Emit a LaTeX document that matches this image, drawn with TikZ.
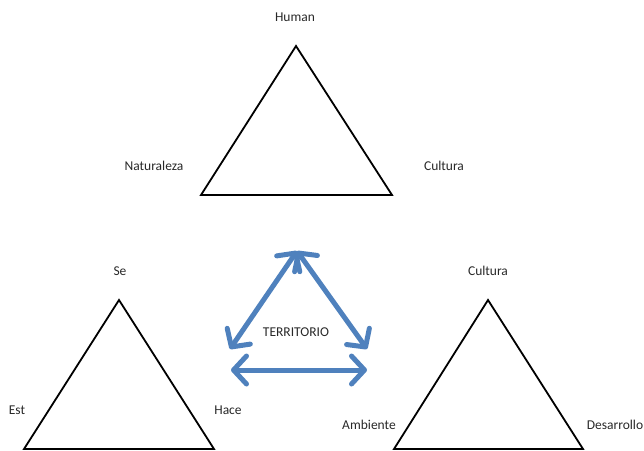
\documentclass[tikz,border=0pt]{standalone}
\usepackage{fontspec}
\setmainfont{Carlito}
\usetikzlibrary{arrows.meta}
\definecolor{arrowblue}{RGB}{79,129,189}
\definecolor{txt}{RGB}{40,40,40}
\tikzset{
  tri/.style={draw=black, line width=1.8pt, line join=miter},
  lbl/.style={text=txt, font=\fontsize{13.5}{15}\selectfont, inner sep=0pt},
  barrow/.style={draw=arrowblue, line width=5pt, line cap=round,
     {Straight Barb[length=13pt,width=28pt,line cap=round,line join=round]}-{Straight Barb[length=13pt,width=28pt,line cap=round,line join=round]}}
}
\begin{document}
\begin{tikzpicture}[x=1pt,y=-1pt]
\useasboundingbox (0,0) rectangle (644,450);
% top triangle
\coordinate (ta) at (296,46);
\coordinate (tl) at (201,195);
\coordinate (tr) at (392,195);
\draw[tri] (ta) -- (tl) -- (tr) -- cycle;
% bottom-left triangle
\coordinate (la) at (119,300);
\coordinate (ll) at (24,449);
\coordinate (lr) at (214,449);
\draw[tri] (la) -- (ll) -- (lr) -- cycle;
% bottom-right triangle
\coordinate (ra) at (488,300);
\coordinate (rl) at (394,449);
\coordinate (rr) at (583,449);
\draw[tri] (ra) -- (rl) -- (rr) -- cycle;
% labels
\node[lbl] (human) at (295,17) {Human};
\node[lbl] (nat) at (154,166) {Naturaleza};
\node[lbl] (cul1) at (444,166) {Cultura};
\node[lbl] (se) at (120,271) {Se};
\node[lbl] (est) at (17,410) {Est};
\node[lbl] (hace) at (228,410) {Hace};
\node[lbl] (cul2) at (488,271) {Cultura};
\node[lbl] (amb) at (369,425) {Ambiente};
\node[lbl] (des) at (615,425) {Desarrollo};
\node[lbl] (terr) at (296,332) {TERRITORIO};
% arrows
\coordinate (apx) at (297,251);
\coordinate (al) at (230,349);
\coordinate (ar) at (367,349);
\coordinate (bl) at (231,370);
\coordinate (br) at (367,370);
\draw[barrow] (apx) -- (al);
\draw[barrow] (apx) -- (ar);
\draw[barrow] (bl) -- (br);
\end{tikzpicture}
\end{document}
